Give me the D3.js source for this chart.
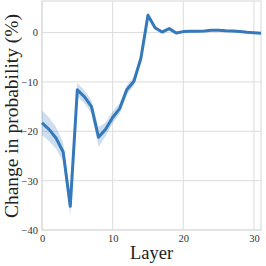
<!DOCTYPE html>
<html>
<head>
<meta charset="utf-8">
<script src="https://cdn.jsdelivr.net/npm/d3@7"></script>
<style>
  body { margin: 0; background: #fff; }
  text { font-family: "Liberation Serif", "DejaVu Serif", serif; }
</style>
</head>
<body>
<div class="canvas"></div>
<script>
// Data
const layers = d3.range(0, 32);
const change = [-18.3, -19.6, -21.4, -24.2, -35.2, -11.6, -13.0, -15.0, -21.2, -19.6,
  -17.2, -15.4, -11.6, -9.9, -5.2, 3.5, 1.0, 0.1, 0.8, -0.1,
  0.2, 0.25, 0.25, 0.3, 0.45, 0.45, 0.35, 0.3, 0.2, 0.05, -0.05, -0.15];
const spread = [2.5, 2.4, 2.2, 1.9, 2.0, 1.4, 1.3, 1.3, 2.0, 1.4,
  1.2, 1.1, 1.0, 0.9, 0.9, 0.6, 0.4, 0.3, 0.3, 0.3,
  0.2, 0.2, 0.2, 0.2, 0.2, 0.2, 0.2, 0.2, 0.2, 0.2, 0.2, 0.2];
const xTicks = [0, 10, 20, 30];
const yTicks = [-40, -30, -20, -10, 0];

const dims = { width: 266, height: 266 };
const margin = { top: 1, right: 5, bottom: 36, left: 42 };

const svg = d3.select('.canvas')
  .append('svg')
  .attr('width', dims.width)
  .attr('height', dims.height);

const x = d3.scaleLinear()
  .domain([0, 31])
  .range([margin.left, dims.width - margin.right]);

const y = d3.scaleLinear()
  .domain([-40, 6.4])
  .range([dims.height - margin.bottom, margin.top]);

const grid = '#dcdcdc';

// gridlines
svg.append('g')
  .selectAll('line')
  .data(xTicks)
  .join('line')
    .attr('x1', d => x(d)).attr('x2', d => x(d))
    .attr('y1', y.range()[0]).attr('y2', y.range()[1])
    .attr('stroke', grid).attr('stroke-width', 1);

svg.append('g')
  .selectAll('line')
  .data(yTicks)
  .join('line')
    .attr('x1', x.range()[0]).attr('x2', x.range()[1])
    .attr('y1', d => y(d)).attr('y2', d => y(d))
    .attr('stroke', grid).attr('stroke-width', 1);

// frame
svg.append('rect')
  .attr('x', x.range()[0])
  .attr('y', y.range()[1])
  .attr('width', x.range()[1] - x.range()[0])
  .attr('height', y.range()[0] - y.range()[1])
  .attr('fill', 'none')
  .attr('stroke', grid)
  .attr('stroke-width', 1.2);

// confidence band
const area = d3.area()
  .x((d, i) => x(layers[i]))
  .y0((d, i) => y(change[i] - spread[i]))
  .y1((d, i) => y(change[i] + spread[i]));

svg.append('path')
  .datum(change)
  .attr('d', area)
  .attr('fill', '#3a7dbd')
  .attr('fill-opacity', 0.25);

// mean line
const line = d3.line()
  .x((d, i) => x(layers[i]))
  .y(d => y(d));

svg.append('path')
  .datum(change)
  .attr('d', line)
  .attr('fill', 'none')
  .attr('stroke', '#3679ba')
  .attr('stroke-width', 3)
  .attr('stroke-linejoin', 'round');

// axes (no domain line, no tick marks)
const xAxis = d3.axisBottom(x).tickValues(xTicks).tickSize(0).tickPadding(5);
const yAxis = d3.axisLeft(y).tickValues(yTicks).tickSize(0).tickPadding(4);

svg.append('g')
  .attr('transform', `translate(0, ${y.range()[0]})`)
  .call(xAxis)
  .call(g => g.select('.domain').remove())
  .selectAll('text')
    .attr('font-family', '"Liberation Serif", serif')
    .attr('font-size', 10.5)
    .attr('fill', '#333');

svg.append('g')
  .attr('transform', `translate(${x.range()[0]}, 0)`)
  .call(yAxis)
  .call(g => g.select('.domain').remove())
  .selectAll('text')
    .attr('font-family', '"Liberation Serif", serif')
    .attr('font-size', 10.5)
    .attr('fill', '#333');

// axis labels
svg.append('text')
  .attr('x', (x.range()[0] + x.range()[1]) / 2)
  .attr('y', 259)
  .attr('text-anchor', 'middle')
  .attr('font-size', 18.5)
  .attr('fill', '#222')
  .text('Layer');

svg.append('text')
  .attr('transform', `translate(17.5, 116) rotate(-90)`)
  .attr('text-anchor', 'middle')
  .attr('font-size', 19.5)
  .attr('fill', '#222')
  .text('Change in probability (%)');
</script>
</body>
</html>
